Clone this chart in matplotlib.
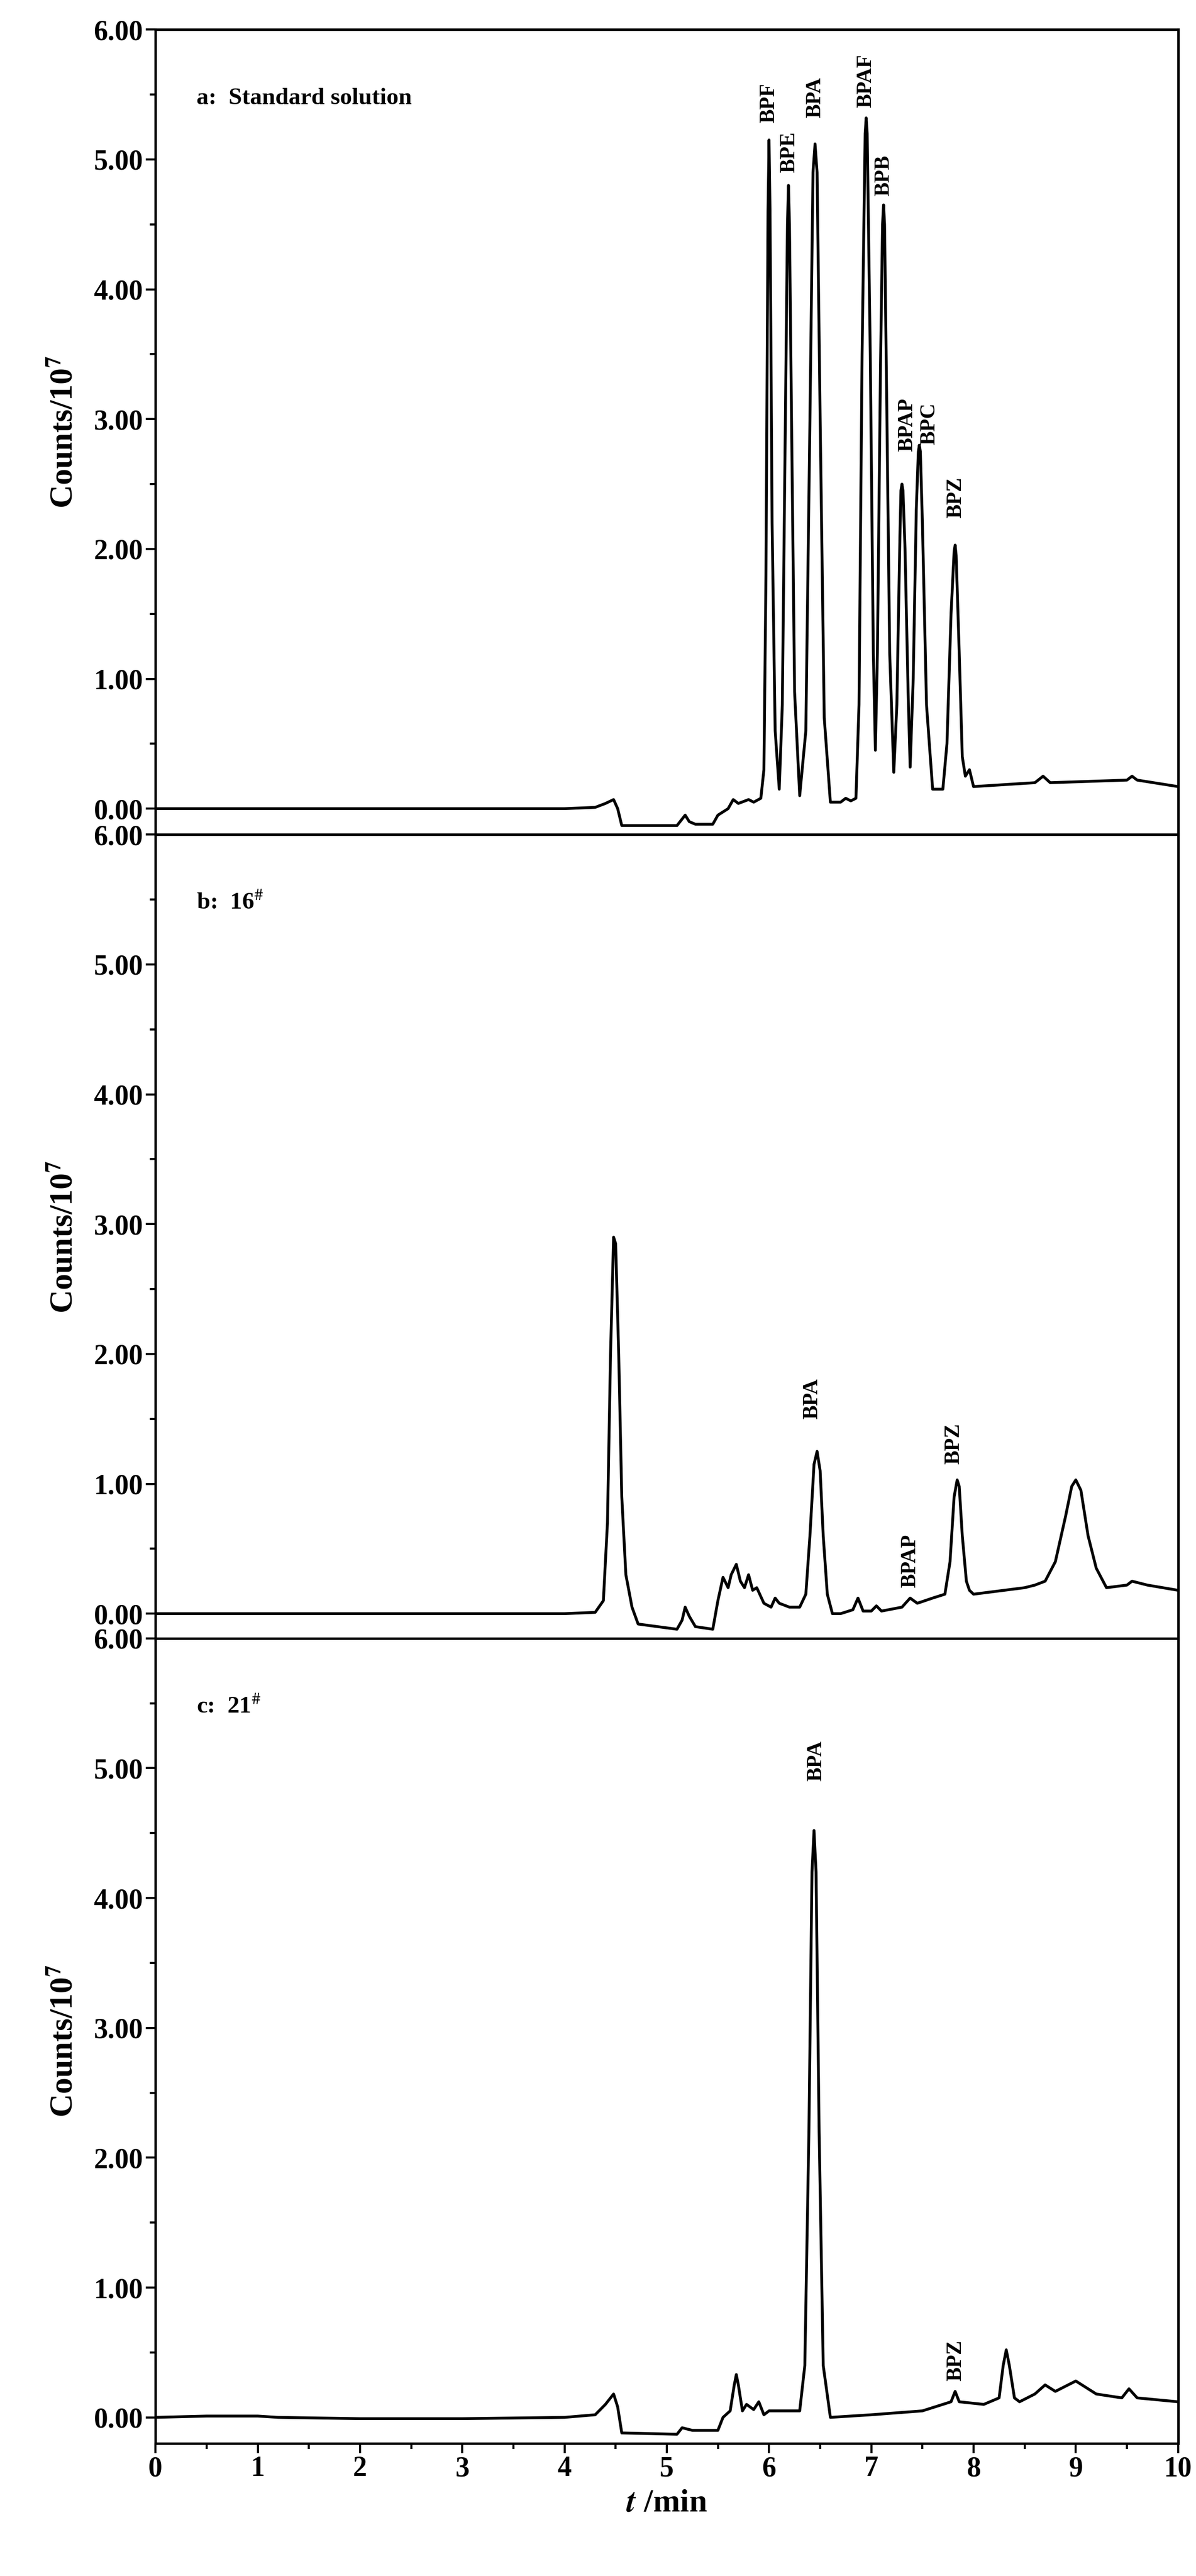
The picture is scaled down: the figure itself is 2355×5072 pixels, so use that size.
import matplotlib
matplotlib.use("Agg")
import matplotlib.pyplot as plt
from matplotlib.ticker import MultipleLocator, FormatStrFormatter

plt.rcParams['font.family'] = ['Liberation Serif', 'DejaVu Serif']
plt.rcParams['mathtext.fontset'] = 'stix'

# ---- data: panel a (standard solution) ----
t_a = [0, 1, 2, 3, 4, 4.3, 4.4, 4.48, 4.52, 4.56, 5.1, 5.15, 5.18, 5.22, 5.28, 5.45, 5.5, 5.6, 5.65, 5.7, 5.8, 5.85, 5.92,
       5.95, 5.97, 5.99, 6.0, 6.01, 6.03, 6.06, 6.1,
       6.13, 6.16, 6.18, 6.19, 6.2, 6.22, 6.25, 6.3,
       6.36, 6.4, 6.43, 6.45, 6.47, 6.5, 6.54, 6.6, 6.7, 6.75, 6.8, 6.85,
       6.88, 6.91, 6.94, 6.95, 6.96, 6.99, 7.02, 7.04,
       7.06, 7.09, 7.11, 7.12, 7.13, 7.15, 7.18, 7.22,
       7.25, 7.28, 7.29, 7.3, 7.31, 7.33, 7.36, 7.38,
       7.41, 7.44, 7.46, 7.47, 7.48, 7.5, 7.54, 7.6, 7.7,
       7.74, 7.78, 7.81, 7.82, 7.83, 7.86, 7.89, 7.92, 7.96, 8.0, 8.6, 8.68, 8.75, 9.5, 9.55, 9.6, 10]
y_a = [0.0, 0.0, 0.0, 0.0, 0.0, 0.01, 0.04, 0.07, 0.0, -0.13, -0.13, -0.08, -0.05, -0.1, -0.12, -0.12, -0.05, 0.0, 0.07, 0.04, 0.07, 0.05, 0.08,
       0.3, 1.8, 4.6, 5.15, 4.6, 2.2, 0.6, 0.15,
       0.8, 3.0, 4.5, 4.8, 4.5, 3.0, 0.9, 0.1,
       0.6, 3.0, 4.9, 5.12, 4.9, 3.0, 0.7, 0.05, 0.05, 0.08, 0.06, 0.08,
       0.8, 3.5, 5.2, 5.32, 5.2, 3.5, 1.2, 0.45,
       1.2, 3.4, 4.5, 4.65, 4.5, 3.2, 1.2, 0.28,
       0.8, 2.1, 2.45, 2.5, 2.45, 2.0, 0.9, 0.32,
       1.0, 2.3, 2.75, 2.8, 2.75, 2.2, 0.8, 0.15, 0.15,
       0.5, 1.5, 1.98, 2.03, 1.95, 1.2, 0.4, 0.25, 0.3, 0.17, 0.2, 0.25, 0.2, 0.22, 0.25, 0.22, 0.17]

# ---- data: panel b (16#) ----
t_b = [0, 1, 2, 3, 4, 4.3, 4.38, 4.42, 4.45, 4.48, 4.5, 4.53, 4.56, 4.6, 4.66, 4.72, 5.1, 5.15, 5.18, 5.22, 5.28, 5.45, 5.5, 5.55, 5.6, 5.63,
       5.68, 5.72, 5.76, 5.8, 5.84, 5.88, 5.95, 6.02, 6.06, 6.1, 6.2, 6.3,
       6.36, 6.4, 6.44, 6.47, 6.5, 6.53, 6.57, 6.62, 6.7, 6.82, 6.87, 6.92, 7.0, 7.05, 7.1, 7.3, 7.38, 7.45, 7.6, 7.72,
       7.77, 7.81, 7.84, 7.86, 7.89, 7.93, 7.96, 8.0, 8.5, 8.6, 8.7, 8.8, 8.9, 8.96, 9.0, 9.05, 9.12, 9.2, 9.3, 9.5, 9.55, 9.7, 10]
y_b = [0.0, 0.0, 0.0, 0.0, 0.0, 0.01, 0.1, 0.7, 2.0, 2.9, 2.85, 2.0, 0.9, 0.3, 0.05, -0.08, -0.12, -0.05, 0.05, -0.02, -0.1, -0.12, 0.1, 0.28, 0.2, 0.3,
       0.38, 0.25, 0.2, 0.3, 0.18, 0.2, 0.08, 0.05, 0.12, 0.08, 0.05, 0.05,
       0.15, 0.6, 1.15, 1.25, 1.1, 0.6, 0.15, 0.0, 0.0, 0.03, 0.12, 0.02, 0.02, 0.06, 0.02, 0.05, 0.12, 0.08, 0.12, 0.15,
       0.4, 0.9, 1.03, 0.98, 0.6, 0.25, 0.18, 0.15, 0.2, 0.22, 0.25, 0.4, 0.75, 0.98, 1.03, 0.95, 0.6, 0.35, 0.2, 0.22, 0.25, 0.22, 0.18]

# ---- data: panel c (21#) ----
t_c = [0, 0.5, 1, 1.2, 2, 3, 4, 4.3, 4.4, 4.48, 4.52, 4.56, 5.1, 5.15, 5.25, 5.5, 5.55, 5.62, 5.66, 5.68, 5.7, 5.74, 5.78, 5.85, 5.9, 5.95, 6.0, 6.3,
       6.35, 6.39, 6.42, 6.44, 6.46, 6.49, 6.53, 6.6, 7.0, 7.5, 7.78, 7.82, 7.86, 8.1, 8.25, 8.29, 8.32, 8.35, 8.4, 8.45, 8.6, 8.7, 8.8, 9.0, 9.2, 9.45, 9.52, 9.6, 10]
y_c = [0.0, 0.01, 0.01, 0.0, -0.01, -0.01, 0.0, 0.02, 0.1, 0.18, 0.08, -0.12, -0.13, -0.08, -0.1, -0.1, 0.0, 0.05, 0.25, 0.33, 0.25, 0.05, 0.1, 0.06, 0.12, 0.02, 0.05, 0.05,
       0.4, 2.2, 4.2, 4.52, 4.2, 2.2, 0.4, 0.0, 0.02, 0.05, 0.12, 0.2, 0.12, 0.1, 0.15, 0.4, 0.52, 0.4, 0.15, 0.12, 0.18, 0.25, 0.2, 0.28, 0.18, 0.15, 0.22, 0.15, 0.12]

labels_a = [("BPF", 6.0, 5.28), ("BPE", 6.2, 4.9), ("BPA", 6.45, 5.32), ("BPAF", 6.95, 5.4),
            ("BPB", 7.12, 4.72), ("BPAP", 7.35, 2.75), ("BPC", 7.57, 2.8), ("BPZ", 7.83, 2.24)]
labels_b = [("BPA", 6.42, 1.5), ("BPAP", 7.38, 0.2), ("BPZ", 7.81, 1.15)]
labels_c = [("BPA", 6.46, 4.9), ("BPZ", 7.83, 0.28)]

titles = [r"a:  Standard solution", r"b:  16$^{\#}$", r"c:  21$^{\#}$"]

fig = plt.figure(figsize=(23.55, 50.72), dpi=100)
L, R = 0.130, 0.985
tops = [0.9885, 0.676, 0.364]
H = 0.3125
data = [(t_a, y_a, labels_a), (t_b, y_b, labels_b), (t_c, y_c, labels_c)]
for i, (t, y, labs) in enumerate(data):
    ax = fig.add_axes([L, tops[i] - H, R - L, H])
    ax.plot(t, y, color='black', lw=4)
    ax.set_xlim(0, 10)
    ax.set_ylim(-0.2, 6.0)
    ax.yaxis.set_major_locator(MultipleLocator(1))
    ax.yaxis.set_minor_locator(MultipleLocator(0.5))
    ax.yaxis.set_major_formatter(FormatStrFormatter('%.2f'))
    ax.xaxis.set_major_locator(MultipleLocator(1))
    ax.xaxis.set_minor_locator(MultipleLocator(0.5))
    ax.tick_params(axis='both', which='major', direction='out', length=14, width=3, labelsize=40)
    ax.tick_params(axis='both', which='minor', direction='out', length=8, width=3)
    for lab in ax.get_yticklabels() + ax.get_xticklabels():
        lab.set_fontweight('bold')
    for s in ax.spines.values():
        s.set_linewidth(3.5)
    if i < 2:
        ax.tick_params(axis='x', which='both', bottom=False, labelbottom=False)
    ax.set_ylabel(r"Counts/10$^{\mathbf{7}}$", fontsize=46, fontweight='bold', labelpad=20)
    ax.text(0.4, 5.47, titles[i], fontsize=34, fontweight='bold', va='center', ha='left')
    for name, x, yy in labs:
        ax.text(x, yy, name, rotation=90, fontsize=30, fontweight='bold', ha='center', va='bottom')
    if i == 2:
        ax.set_xlabel(r"$\mathbfit{t}$ /min", fontsize=46, fontweight='bold', labelpad=10)

fig.savefig("out.png", dpi=100)
